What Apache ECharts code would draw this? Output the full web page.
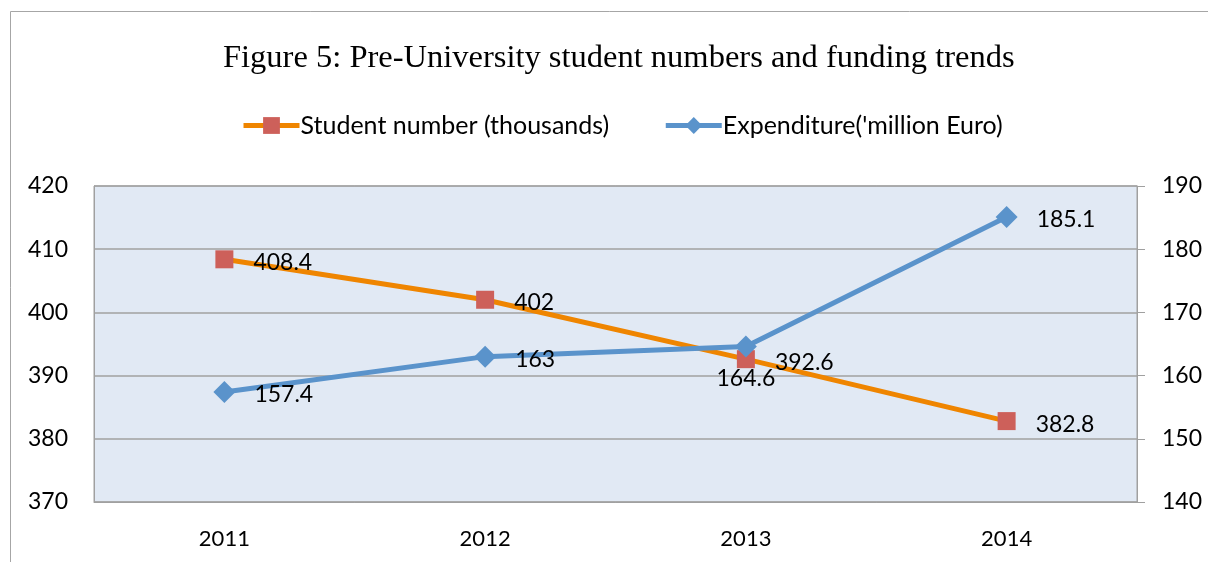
<!DOCTYPE html>
<html>
<head>
<meta charset="utf-8">
<script src="https://cdn.jsdelivr.net/npm/echarts@6/dist/echarts.min.js"></script>
<style>
  html, body { margin: 0; padding: 0; background: #ffffff; }
  #chart { width: 1208px; height: 562px; }
</style>
</head>
<body>
<div id="chart"></div>
<script>
// Pre-university student numbers vs. expenditure, 2011-2014
var years = ['2011', '2012', '2013', '2014'];
var studentNumbers = [408.4, 402, 392.6, 382.8];     // thousands (left axis)
var expenditure = [157.4, 163, 164.6, 185.1];         // million Euro (right axis)
var studentName = 'Student number (thousands)';
var expenditureName = "Expenditure('million Euro)";
var titleText = 'Figure 5: Pre-University student numbers and funding trends';

var sansFont = 'Lato, "Noto Sans", sans-serif';
var textColor = '#000000';
var gridColor = '#a0a0a0';

var chart = echarts.init(document.getElementById('chart'), null, { renderer: 'canvas' });

chart.setOption({
  animation: false,
  backgroundColor: '#ffffff',
  // outer chart frame
  graphic: [{
    type: 'rect',
    shape: { x: 10.5, y: 11.5, width: 1210, height: 600 },
    style: { fill: 'none', stroke: '#a6a6a6', lineWidth: 1 },
    silent: true
  }],
  title: {
    text: titleText,
    left: 218,
    top: 37,
    textStyle: {
      fontFamily: '"Liberation Serif", "DejaVu Serif", serif',
      fontWeight: 'normal',
      fontSize: 32.5,
      color: textColor
    }
  },
  legend: {
    top: 108,
    left: 236,
    itemGap: 54,
    itemWidth: 56,
    itemHeight: 21,
    lineStyle: { width: 5 },
    textStyle: { fontFamily: sansFont, fontSize: 25, color: textColor, padding: [0, 0, 0, -4] },
    data: [
      { name: studentName },
      { name: expenditureName }
    ]
  },
  grid: {
    left: 94,
    right: 71,
    top: 186,
    bottom: 60,
    show: true,
    backgroundColor: '#e1e9f4',
    borderColor: gridColor,
    borderWidth: 1
  },
  xAxis: {
    type: 'category',
    data: years,
    boundaryGap: true,
    axisLine: { show: true, lineStyle: { color: gridColor } },
    axisTick: { show: false },
    axisLabel: { fontFamily: sansFont, fontSize: 22, color: textColor, margin: 26 }
  },
  yAxis: [
    {
      type: 'value',
      min: 370,
      max: 420,
      interval: 10,
      position: 'left',
      axisLine: { show: true, lineStyle: { color: gridColor } },
      axisTick: { show: false },
      splitLine: { show: true, lineStyle: { color: gridColor, width: 1.5 } },
      axisLabel: { fontFamily: sansFont, fontSize: 23, color: textColor, margin: 26 }
    },
    {
      type: 'value',
      min: 140,
      max: 190,
      interval: 10,
      position: 'right',
      axisLine: { show: true, lineStyle: { color: gridColor } },
      axisTick: { show: true, inside: false, length: 8, lineStyle: { color: gridColor } },
      splitLine: { show: false },
      axisLabel: { fontFamily: sansFont, fontSize: 23, color: textColor, margin: 25 }
    }
  ],
  series: [
    {
      name: studentName,
      type: 'line',
      yAxisIndex: 0,
      data: studentNumbers,
      symbol: 'rect',
      symbolSize: 18,
      lineStyle: { color: '#ef8500', width: 5 },
      itemStyle: { color: '#cd605a', borderWidth: 0 },
      label: {
        show: true,
        position: 'right',
        distance: 20,
        offset: [0, 3],
        fontFamily: sansFont,
        fontSize: 23,
        color: textColor
      },
      z: 2
    },
    {
      name: expenditureName,
      type: 'line',
      yAxisIndex: 1,
      data: expenditure.map(function (v, i) {
        // the 2013 label sits below its marker
        if (i === 2) {
          return { value: v, label: { position: 'bottom', distance: 10, offset: [0, 0] } };
        }
        return v;
      }),
      symbol: 'diamond',
      symbolSize: 22,
      lineStyle: { color: '#5a93cb', width: 5 },
      itemStyle: { color: '#5a93cb', borderWidth: 0 },
      label: {
        show: true,
        position: 'right',
        distance: 19,
        offset: [0, 3],
        fontFamily: sansFont,
        fontSize: 23,
        color: textColor
      },
      z: 3
    }
  ]
});
</script>
</body>
</html>
